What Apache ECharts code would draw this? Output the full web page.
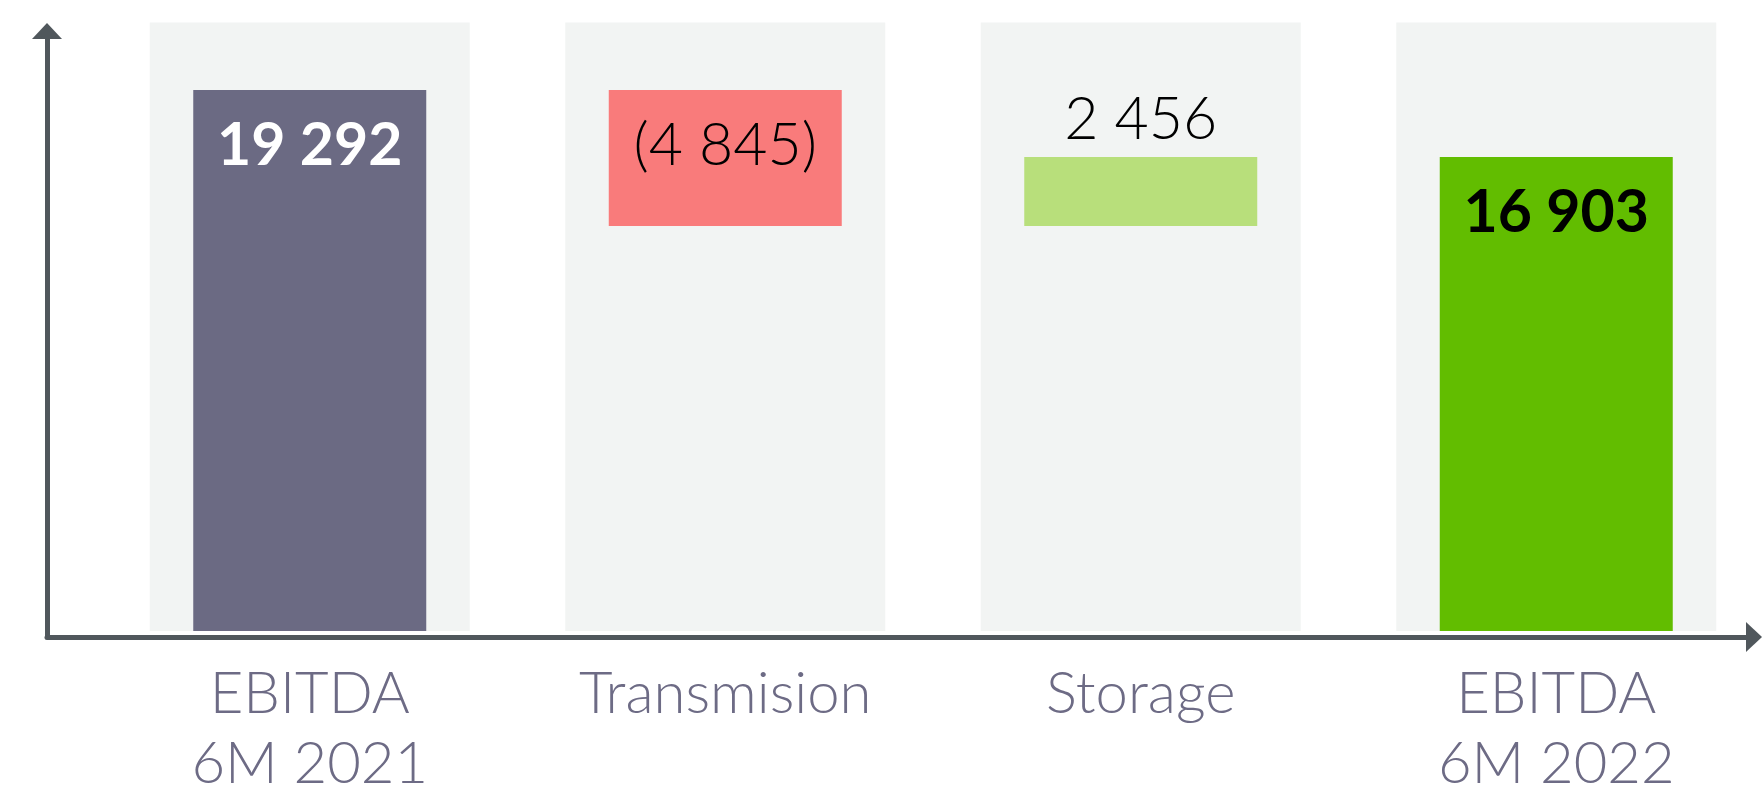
<!DOCTYPE html>
<html>
<head>
<meta charset="utf-8">
<script src="https://cdn.jsdelivr.net/npm/echarts@6/dist/echarts.min.js"></script>
<style>
  html, body { margin: 0; padding: 0; background: #fff; }
  #main { width: 1762px; height: 793px; }
</style>
</head>
<body>
<div id="main"></div>
<script>
// data
var categories = ['EBITDA\n6M 2021', 'Transmision', 'Storage', 'EBITDA\n6M 2022'];
var values = [19292, -4845, 2456, 16903];
var isTotal = [true, false, false, true];
var axisMax = 21700;

var barColors = ['#6b6a83', '#f97b7b', '#b8df7b', '#62bd00'];
var labelColors = ['#ffffff', '#000000', '#000000', '#000000'];
var labelWeights = ['bold', 300, 300, 'bold'];
var labelPositions = ['insideTop', 'insideTop', 'top', 'insideTop'];

// waterfall: transparent base + visible part
var base = [], height = [];
var running = 0;
values.forEach(function (v, i) {
  if (isTotal[i]) { base.push(0); height.push(v); running = v; }
  else if (v < 0) { running += v; base.push(running); height.push(-v); }
  else { base.push(running); height.push(v); running += v; }
});

function fmt(v) {
  var s = String(Math.abs(v)).replace(/\B(?=(\d{3})+(?!\d))/g, ' ');
  return v < 0 ? '(' + s + ')' : s;
}

var myChart = echarts.init(document.getElementById('main'));

var option = {
  animation: false,
  textStyle: { fontFamily: 'Lato' },
  grid: [
    { left: 102, right: -2, top: 22.5, bottom: 162, containLabel: false, outerBoundsMode: 'none' },
    { left: 47, right: 8, top: 31, bottom: 156, containLabel: false, outerBoundsMode: 'none' }
  ],
  xAxis: [
    {
      type: 'category', gridIndex: 0, data: categories,
      axisLine: { show: false }, axisTick: { show: false },
      axisLabel: {
        color: '#6d6b85', fontSize: 58, fontWeight: 300,
        lineHeight: 70, margin: 28, interval: 0
      }
    },
    { type: 'category', gridIndex: 0, data: categories, show: false },
    {
      type: 'value', gridIndex: 1, min: 0, max: 1,
      axisLine: { show: true, symbol: ['none', 'triangle'], symbolSize: [30, 16],
        lineStyle: { color: '#50575c', width: 5 } },
      axisTick: { show: false }, axisLabel: { show: false }, splitLine: { show: false }
    }
  ],
  yAxis: [
    { type: 'value', gridIndex: 0, min: 0, max: axisMax, show: false },
    {
      type: 'value', gridIndex: 1, min: 0, max: 1,
      axisLine: { show: true, symbol: ['none', 'triangle'], symbolSize: [30, 16],
        lineStyle: { color: '#50575c', width: 5 } },
      axisTick: { show: false }, axisLabel: { show: false }, splitLine: { show: false }
    }
  ],
  series: [
    {
      name: 'band', type: 'bar', xAxisIndex: 1, yAxisIndex: 0,
      barWidth: 320, silent: true, z: 1,
      itemStyle: { color: '#f2f4f3' },
      data: categories.map(function () { return axisMax; })
    },
    {
      name: 'base', type: 'bar', stack: 'w', xAxisIndex: 0, yAxisIndex: 0,
      barWidth: 233, silent: true, z: 2,
      itemStyle: { color: 'transparent' },
      data: base
    },
    {
      name: 'EBITDA', type: 'bar', stack: 'w', xAxisIndex: 0, yAxisIndex: 0,
      barWidth: 233, z: 3,
      data: height.map(function (h, i) {
        return {
          value: h,
          itemStyle: { color: barColors[i] },
          label: {
            show: true,
            position: labelPositions[i],
            distance: labelPositions[i] === 'top' ? 8 : 26,
            color: labelColors[i],
            fontWeight: labelWeights[i],
            fontSize: 59,
            fontFamily: 'Lato',
            formatter: function () { return fmt(values[i]); }
          }
        };
      })
    }
  ]
};

myChart.setOption(option);
</script>
</body>
</html>
